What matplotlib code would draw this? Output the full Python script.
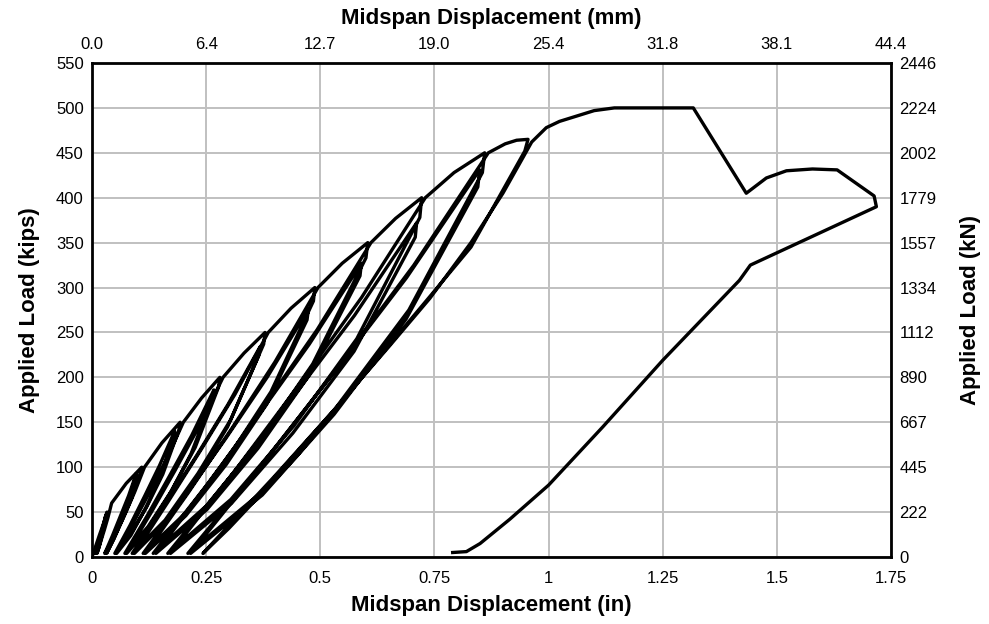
import matplotlib
matplotlib.use("Agg")
import matplotlib.pyplot as plt
import numpy as np

plt.rcParams["font.family"] = ["Liberation Sans", "DejaVu Sans"]

# cyclic part of the test: load/unload cycles at increasing load levels
cycle_in = [
    0, 0.008, 0.016, 0.025, 0.033, 0.031, 0.025, 0.019, 0.013, 0.007,
    0.013, 0.0185, 0.024, 0.03, 0.029, 0.0245, 0.02, 0.0155, 0.011,
    0.019, 0.027, 0.035, 0.043, 0.075, 0.109, 0.106, 0.0865, 0.067, 0.0475, 0.028,
    0.045, 0.0625, 0.08, 0.097, 0.095, 0.079, 0.0635, 0.048, 0.032,
    0.053, 0.0735, 0.094, 0.115, 0.153, 0.193, 0.19, 0.155, 0.12, 0.085, 0.05,
    0.083, 0.1155, 0.148, 0.181, 0.178, 0.147, 0.116, 0.085, 0.054,
    0.0905, 0.127, 0.1635, 0.2, 0.24, 0.28, 0.277, 0.226, 0.1745, 0.123, 0.072,
    0.121, 0.1695, 0.218, 0.267, 0.264, 0.217, 0.17, 0.123, 0.076,
    0.129, 0.1815, 0.234, 0.287, 0.333, 0.379, 0.376, 0.304, 0.232, 0.16, 0.088,
    0.158, 0.228, 0.298, 0.368, 0.365, 0.297, 0.229, 0.161, 0.093,
    0.166, 0.2395, 0.313, 0.386, 0.436, 0.488, 0.485, 0.392, 0.2985, 0.205, 0.112,
    0.2025, 0.293, 0.3835, 0.474, 0.471, 0.3825, 0.294, 0.2055, 0.117,
    0.2115, 0.306, 0.4005, 0.495, 0.548, 0.604, 0.6, 0.4835, 0.367, 0.2505, 0.134,
    0.248, 0.362, 0.476, 0.59, 0.587, 0.475, 0.3635, 0.252, 0.14,
    0.258, 0.3755, 0.493, 0.611, 0.665, 0.722, 0.718, 0.58, 0.442, 0.304, 0.166,
    0.302, 0.4385, 0.575, 0.711, 0.708, 0.574, 0.44, 0.306, 0.172,
    0.3115, 0.451, 0.5905, 0.73, 0.793, 0.86, 0.855, 0.694, 0.5325, 0.371, 0.21,
    0.37, 0.5295, 0.689, 0.849, 0.845, 0.688, 0.5305, 0.373, 0.216,
    0.379, 0.542, 0.705, 0.868, 0.905, 0.93, 0.955, 0.948, 0.83, 0.74, 0.6, 0.45, 0.3, 0.243,
]
cycle_kips = [
    0, 12, 24, 37, 50, 47, 33, 22, 12, 4,
    14, 24, 34, 46, 43, 31, 20, 11, 4,
    17, 30, 44, 60, 82, 100, 94, 65, 42, 21, 4,
    24, 46, 68, 93, 88, 61, 39, 20, 4,
    26, 49, 73, 100, 127, 150, 141, 92, 56, 26, 4,
    35, 68, 102, 140, 132, 86, 53, 24, 4,
    38, 73, 109, 150, 177, 200, 189, 122, 74, 34, 4,
    46, 90, 135, 186, 177, 115, 70, 32, 4,
    49, 96, 145, 200, 227, 250, 237, 153, 93, 41, 4,
    57, 112, 170, 234, 224, 145, 88, 39, 4,
    61, 120, 181, 250, 277, 300, 285, 184, 111, 49, 4,
    67, 132, 200, 276, 264, 170, 103, 46, 4,
    72, 143, 217, 300, 327, 350, 333, 215, 129, 57, 4,
    78, 156, 237, 327, 313, 202, 121, 53, 4,
    84, 167, 253, 350, 377, 400, 378, 243, 146, 64, 4,
    89, 177, 269, 372, 356, 229, 138, 60, 4,
    95, 190, 289, 400, 428, 450, 428, 275, 165, 72, 4,
    102, 205, 311, 431, 412, 265, 159, 69, 4,
    107, 214, 325, 450, 460, 464, 465, 452, 345, 290, 205, 113, 32, 4,
]

# final loading to failure and unloading
ultimate_in = [
    0.4, 0.543, 0.65, 0.74, 0.83, 0.9, 0.963, 0.995, 1.024, 1.068, 1.1, 1.144,
    1.317, 1.433, 1.477, 1.521, 1.578, 1.632, 1.713, 1.718, 1.442, 1.418,
    1.25, 1.119, 1.0, 0.915, 0.85, 0.82, 0.79,
]
ultimate_kips = [
    90, 171, 234, 288, 350, 405, 462, 478, 485, 492, 497, 500,
    500, 405, 422, 430, 432, 431, 402, 390, 325, 308,
    219, 145, 80, 42, 15, 6, 5,
]

in_ticks = [0, 0.25, 0.5, 0.75, 1, 1.25, 1.5, 1.75]
in_labels = ["0", "0.25", "0.5", "0.75", "1", "1.25", "1.5", "1.75"]
mm_labels = ["0.0", "6.4", "12.7", "19.0", "25.4", "31.8", "38.1", "44.4"]
kip_ticks = list(range(0, 551, 50))
kn_labels = ["0", "222", "445", "667", "890", "1112", "1334", "1557",
             "1779", "2002", "2224", "2446"]

disp = np.array(cycle_in + ultimate_in)
load = np.array(cycle_kips + ultimate_kips)

fig = plt.figure(figsize=(9.89, 6.24), dpi=100)
ax = fig.add_axes([92 / 989, 1 - 557 / 624, (891 - 92) / 989, (557 - 63) / 624])

ax.plot(disp, load, color="black", linewidth=2.4, solid_joinstyle="round", zorder=3)

ax.set_xlim(0, 1.75)
ax.set_ylim(0, 550)
ax.set_xticks(in_ticks)
ax.set_xticklabels(in_labels)
ax.set_yticks(kip_ticks)
ax.grid(True, color="#c0c0c0", linewidth=1.4, zorder=0)
ax.set_axisbelow(True)
ax.tick_params(axis="x", length=0, pad=10, labelsize=12)
ax.tick_params(axis="y", length=0, pad=6, labelsize=12)
for side in ax.spines.values():
    side.set_linewidth(2)
    side.set_color("black")

top = ax.secondary_xaxis("top", functions=(lambda v: v * 25.4, lambda v: v / 25.4))
top.set_xticks([t * 25.4 for t in in_ticks])
top.set_xticklabels(mm_labels)
top.tick_params(length=0, pad=8, labelsize=12)

right = ax.secondary_yaxis("right", functions=(lambda v: v * 4.448, lambda v: v / 4.448))
right.set_yticks([k * 4.448 for k in kip_ticks])
right.set_yticklabels(kn_labels)
right.tick_params(length=0, pad=6, labelsize=12)

fig.text(0.497, 0.030, "Midspan Displacement (in)", ha="center", va="center",
         fontsize=16, fontweight="bold")
fig.text(0.497, 0.971, "Midspan Displacement (mm)", ha="center", va="center",
         fontsize=16, fontweight="bold")
fig.text(0.030, 0.503, "Applied Load (kips)", ha="center", va="center",
         rotation=90, fontsize=16, fontweight="bold")
fig.text(0.981, 0.503, "Applied Load (kN)", ha="center", va="center",
         rotation=90, fontsize=16, fontweight="bold")

fig.savefig("out.png", dpi=100)
